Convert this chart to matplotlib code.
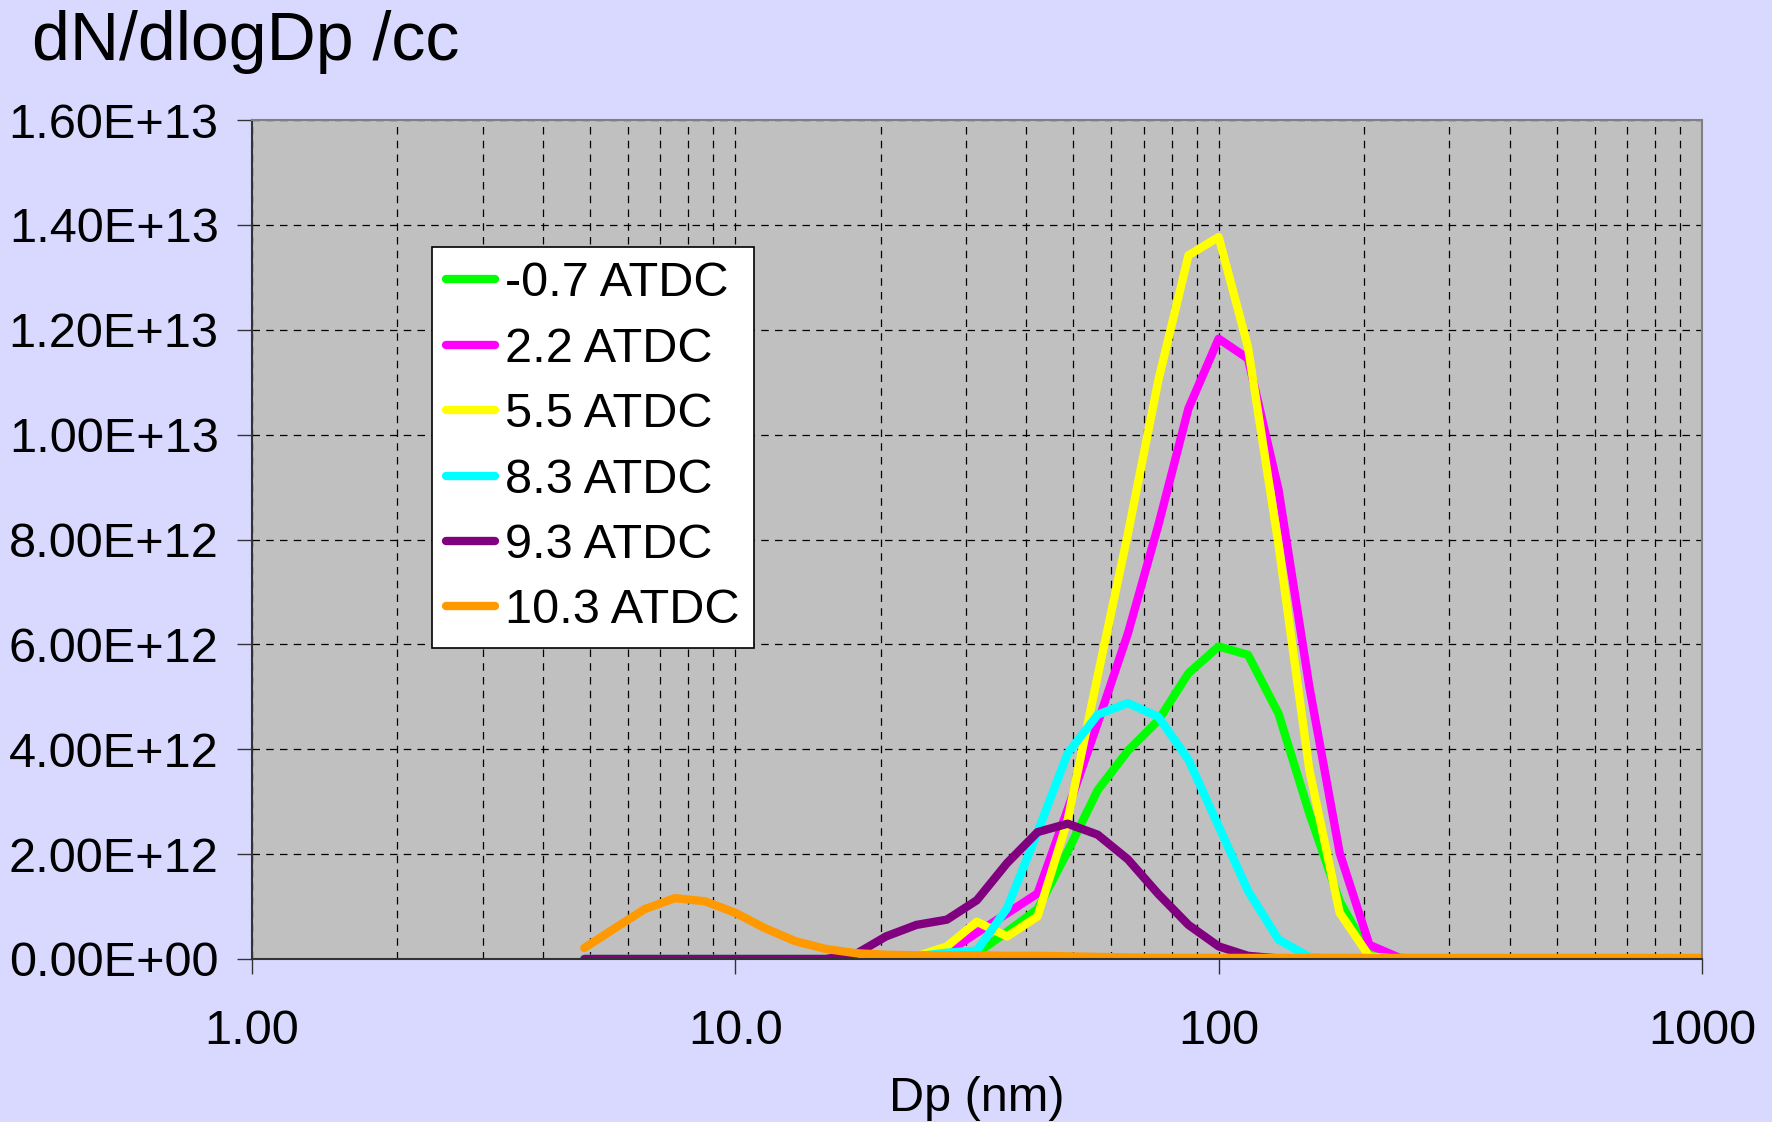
import numpy as np
import matplotlib
matplotlib.use("Agg")
import matplotlib.pyplot as plt
from matplotlib.ticker import FuncFormatter, LogLocator, MultipleLocator

plt.rcParams['font.family'] = ['Liberation Sans', 'DejaVu Sans']

# size bins (nm), 16 per decade
dp = [4.87, 5.62, 6.49, 7.50, 8.66, 10.0, 11.5, 13.3, 15.4, 17.8, 20.5, 23.7,
      27.4, 31.6, 36.5, 42.2, 48.7, 56.2, 64.9, 75.0, 86.6, 100, 115, 133,
      154, 178, 205, 237, 274, 316, 365, 422, 487, 562, 649, 750, 866, 1000]

# dN/dlogDp in units of 1e12 /cc
s_m07 = [0] * 12 + [0.02, 0.11, 0.52, 0.95, 2.05, 3.22, 3.97, 4.55, 5.45, 5.96,
                    5.80, 4.68, 2.78, 1.10, 0.08, 0] + [0] * 10
s_22 = [0] * 11 + [0.02, 0.12, 0.50, 0.87, 1.25, 2.85, 4.50, 6.21, 8.27, 10.5,
                   11.83, 11.45, 8.95, 5.20, 2.02, 0.27, 0.02] + [0] * 10
s_55 = [0] * 11 + [0.05, 0.24, 0.71, 0.43, 0.81, 2.65, 5.40, 8.11, 11.03, 13.42,
                   13.77, 11.67, 7.90, 3.61, 0.88, 0.05, 0] + [0] * 10
s_83 = [0] * 10 + [0.02, 0.05, 0.12, 0.16, 0.97, 2.42, 3.92, 4.66, 4.88, 4.62,
                   3.80, 2.53, 1.30, 0.37, 0.04, 0, 0, 0] + [0] * 10
s_93 = [0] * 9 + [0.10, 0.43, 0.65, 0.75, 1.12, 1.83, 2.42, 2.58, 2.37, 1.90,
                  1.24, 0.65, 0.24, 0.06, 0.01, 0, 0, 0, 0] + [0] * 10
s_103 = [0.21, 0.58, 0.95, 1.16, 1.10, 0.88, 0.59, 0.34, 0.19, 0.11, 0.08, 0.07,
         0.07, 0.07, 0.06, 0.06, 0.05, 0.04, 0.03] + [0.02] * 9 + [0.02] * 10

labels = ['-0.7 ATDC', '2.2 ATDC', '5.5 ATDC', '8.3 ATDC', '9.3 ATDC', '10.3 ATDC']
colors = ['#00FF00', '#FF00FF', '#FFFF00', '#00FFFF', '#800080', '#FF9900']
series = [s_m07, s_22, s_55, s_83, s_93, s_103]

fig = plt.figure(figsize=(17.72, 11.22), dpi=100, facecolor='#D9D9FF')
ax = fig.add_axes([0.1422, 0.1453, 0.8183, 0.7477])
ax.set_facecolor('#C0C0C0')

for vals, lab, col in zip(series, labels, colors):
    ax.plot(dp, np.array(vals) * 1e12, color=col, lw=6, label=lab,
            solid_joinstyle='round', solid_capstyle='round')

ax.set_xscale('log')
ax.set_xlim(1, 1000)
ax.set_ylim(0, 1.6e13)
ax.yaxis.set_major_locator(MultipleLocator(2e12))
ax.yaxis.set_major_formatter(FuncFormatter(lambda v, p: f"{v:.2E}"))
ax.set_xticks([1, 10, 100, 1000], labels=['1.00', '10.0', '100', '1000'])
ax.xaxis.set_minor_locator(LogLocator(base=10, subs=np.arange(2, 10)))
ax.xaxis.set_minor_formatter(plt.NullFormatter())

dash = (0, (6, 5))
ax.grid(True, which='major', axis='both', color='black', lw=0.9, linestyle=dash)
ax.grid(True, which='minor', axis='x', color='black', lw=0.9, linestyle=dash)
ax.set_axisbelow(True)

ax.tick_params(axis='both', which='major', labelsize=35, length=11, width=1,
               direction='out', color='#333333')
ax.tick_params(axis='x', which='major', pad=25)
ax.tick_params(axis='y', which='major', pad=13)
ax.tick_params(axis='x', which='minor', length=0)

for side in ['top', 'right']:
    ax.spines[side].set_color('#808080')
    ax.spines[side].set_linewidth(1.5)
for side in ['left', 'bottom']:
    ax.spines[side].set_color('#333333')
    ax.spines[side].set_linewidth(1.5)

ax.set_xlabel('Dp (nm)', fontsize=35, labelpad=16)

fig.text(0.018, 1 - 60 / 1122, 'dN/dlogDp /cc', fontsize=49, va='baseline', ha='left')

leg = ax.legend(loc='upper left', bbox_to_anchor=(0.124, 0.849), borderaxespad=0,
                fontsize=35, frameon=True, fancybox=False, handlelength=1.0,
                handletextpad=0.2, labelspacing=0.42, borderpad=0.3)
leg.get_frame().set_edgecolor('black')
leg.get_frame().set_facecolor('white')
leg.get_frame().set_linewidth(1.2)
leg.get_frame().set_alpha(1)

fig.savefig('out.png', dpi=100, facecolor=fig.get_facecolor())
